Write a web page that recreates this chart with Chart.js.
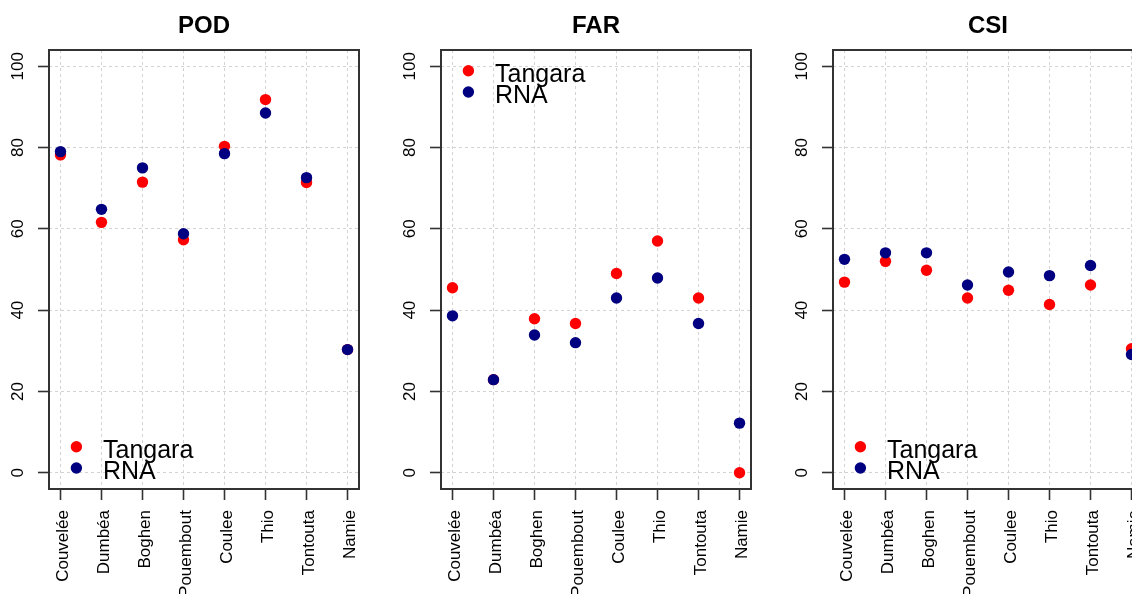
<!DOCTYPE html>
<html>
<head>
<meta charset="utf-8">
<script src="https://cdn.jsdelivr.net/npm/chart.js@4"></script>
<style>
  html, body { margin: 0; padding: 0; background: #fff; overflow: hidden; }
  #wrap { position: relative; width: 1132px; height: 594px; overflow: hidden; background: #fff; }
  .panel { position: absolute; top: 0; width: 392px; height: 594px; }
</style>
</head>
<body>
<div id="wrap">
  <div class="panel" style="left:0px"><canvas id="pod" width="392" height="594"></canvas></div>
  <div class="panel" style="left:392px"><canvas id="far" width="392" height="594"></canvas></div>
  <div class="panel" style="left:784px"><canvas id="csi" width="392" height="594"></canvas></div>
</div>
<script>
// Stations along the x axis
const stations = ['Couvelée', 'Dumbéa', 'Boghen', 'Pouembout', 'Coulee', 'Thio', 'Tontouta', 'Namie'];
const yTicks = [0, 20, 40, 60, 80, 100];

// Scores (%) per station
const podTangara = [78.2, 61.6, 71.5, 57.3, 80.3, 91.8, 71.4, 30.3];
const podRNA     = [79.0, 64.8, 75.0, 58.8, 78.5, 88.5, 72.6, 30.3];
const farTangara = [45.5, 22.9, 37.9, 36.7, 49.0, 57.0, 43.0, 0.0];
const farRNA     = [38.6, 22.9, 33.9, 32.0, 43.0, 47.9, 36.7, 12.2];
const csiTangara = [46.9, 52.0, 49.8, 43.0, 44.9, 41.4, 46.2, 30.5];
const csiRNA     = [52.5, 54.1, 54.1, 46.2, 49.4, 48.5, 51.0, 29.1];

const FONT = '"Liberation Sans", Arial, Helvetica, sans-serif';
const AXIS_COLOR = '#333333';

// Frame around the plotting region
const framePlugin = {
  id: 'frame',
  beforeDatasetsDraw(chart) {
    const { ctx, chartArea: a } = chart;
    ctx.save();
    ctx.strokeStyle = AXIS_COLOR;
    ctx.lineWidth = 2;
    ctx.strokeRect(a.left, a.top, a.right - a.left, a.bottom - a.top);
    ctx.restore();
  }
};

// Borderless legend placed in a corner of the plotting region
const cornerLegend = {
  id: 'cornerLegend',
  afterDraw(chart, args, opts) {
    const { ctx, chartArea: a } = chart;
    const step = 21.3;
    const y0 = opts.position === 'top' ? a.top + 20.7 : a.bottom - 42.3;
    ctx.save();
    chart.data.datasets.forEach((ds, i) => {
      const y = y0 + i * step;
      ctx.beginPath();
      ctx.arc(a.left + 27.4, y, 5.7, 0, Math.PI * 2);
      ctx.fillStyle = ds.backgroundColor;
      ctx.fill();
      ctx.font = '25px ' + FONT;
      ctx.fillStyle = '#000';
      ctx.textAlign = 'left';
      ctx.textBaseline = 'alphabetic';
      ctx.fillText(ds.label, a.left + 54, y + 10.8);
    });
    ctx.restore();
  }
};

function toPoints(values) {
  return values.map((v, i) => ({ x: i + 1, y: v }));
}

function makePanel(id, title, tangara, rna, legendPos) {
  return new Chart(document.getElementById(id), {
    type: 'scatter',
    data: {
      datasets: [
        // RNA (order 0) is painted over Tangara (order 1)
        { label: 'Tangara', order: 1, data: toPoints(tangara), backgroundColor: '#ff0000', borderColor: '#ff0000',
          pointRadius: 5.7, pointBorderWidth: 0, pointHoverRadius: 5.7 },
        { label: 'RNA', order: 0, data: toPoints(rna), backgroundColor: '#000080', borderColor: '#000080',
          pointRadius: 5.7, pointBorderWidth: 0, pointHoverRadius: 5.7 }
      ]
    },
    options: {
      responsive: false,
      animation: false,
      devicePixelRatio: 1,
      events: [],
      layout: { padding: { left: 0, right: 33, top: 0, bottom: 0 } },
      plugins: {
        legend: { display: false },
        tooltip: { enabled: false },
        title: {
          display: true, text: title, fullSize: false, color: '#000',
          font: { family: FONT, size: 24, weight: 'bold', lineHeight: 1.2 },
          padding: { top: 12, bottom: 9.2 }
        },
        cornerLegend: { position: legendPos }
      },
      scales: {
        x: {
          type: 'linear',
          min: 0.72, max: 8.28,
          afterBuildTicks: s => { s.ticks = stations.map((_, i) => ({ value: i + 1 })); },
          afterFit: s => { s.height = 105; },
          ticks: {
            callback: (v, i) => stations[i],
            autoSkip: false, minRotation: 90, maxRotation: 90,
            padding: 10, labelOffset: 2.5,
            color: '#000', font: { family: FONT, size: 17 }
          },
          grid: { color: '#d3d3d3', lineWidth: 1, tickLength: 11, tickColor: AXIS_COLOR, tickWidth: 1.6 },
          border: { display: false, dash: [3, 3] }
        },
        y: {
          type: 'linear',
          min: -4, max: 104,
          afterBuildTicks: s => { s.ticks = yTicks.map(v => ({ value: v })); },
          afterFit: s => { s.width = 49; },
          ticks: {
            autoSkip: false, minRotation: 90, maxRotation: 90,
            crossAlign: 'center', padding: 6,
            color: '#000', font: { family: FONT, size: 17 }
          },
          grid: { color: '#d3d3d3', lineWidth: 1, tickLength: 11, tickColor: AXIS_COLOR, tickWidth: 1.6 },
          border: { display: false, dash: [3, 3] }
        }
      }
    },
    plugins: [framePlugin, cornerLegend]
  });
}

makePanel('pod', 'POD', podTangara, podRNA, 'bottom');
makePanel('far', 'FAR', farTangara, farRNA, 'top');
makePanel('csi', 'CSI', csiTangara, csiRNA, 'bottom');
</script>
</body>
</html>
